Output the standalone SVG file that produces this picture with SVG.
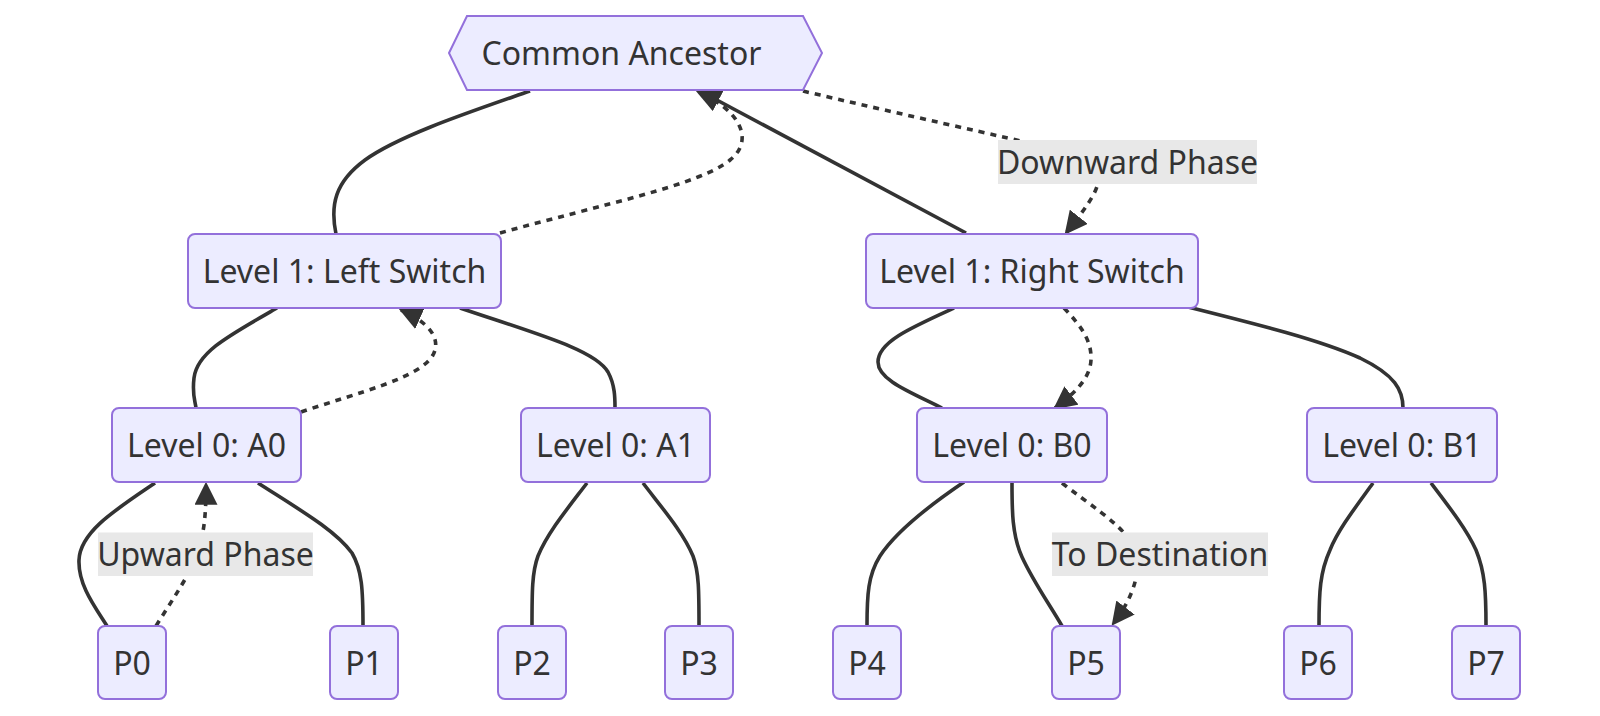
<svg xmlns="http://www.w3.org/2000/svg" width="1600" height="716" viewBox="0 0 1600 716">
<style>
.node rect,.node polygon{fill:#ECECFF;stroke:#9370DB;stroke-width:2}
.node text,.lbl text{font-family:"Noto Sans","Open Sans",sans-serif;font-size:32px;fill:#333333;text-anchor:middle}
.e{fill:none;stroke:#333333;stroke-width:3.6}
.d{stroke-dasharray:6 6}
.lbl rect{fill:#e8e8e8}
</style>
<defs>
<marker id="arr" markerUnits="userSpaceOnUse" viewBox="0 0 10 10" refX="9" refY="5" markerWidth="23" markerHeight="23" orient="auto">
<path d="M0,0 L10,5 L0,10 z" fill="#333333" stroke="none"/>
</marker>
</defs>
<g id="edges">
<path class="e" d="M530,91 C 470,112 400,135 365,160 C 335,182 330,205 336,234"/>
<path class="e d" d="M500,233 C 600,205 700,185 730,160 C 755,140 740,110 698,92" marker-end="url(#arr)"/>
<path class="e" d="M966,233 L700,91" marker-end="url(#arr)"/>
<path class="e d" d="M803,91 C 900,114 1000,136 1060,150 C 1120,165 1100,190 1066,233" marker-end="url(#arr)"/>
<path class="e" d="M277,308 C 230,335 197,352 194,378 C 192,395 195,400 196,408"/>
<path class="e d" d="M301,412 C 360,392 420,378 433,355 C 442,338 428,322 401,310" marker-end="url(#arr)"/>
<path class="e" d="M460,308 C 540,335 595,350 608,372 C 615,385 615,398 615,408"/>
<path class="e" d="M954,308 C 910,328 878,342 878,362 C 878,380 910,392 942,408"/>
<path class="e d" d="M1064,308 C 1080,325 1092,340 1091,360 C 1090,380 1072,395 1055,408" marker-end="url(#arr)"/>
<path class="e" d="M1188,307 C 1260,325 1320,340 1360,358 C 1395,375 1403,390 1403,408"/>
<path class="e" d="M155,483 C 115,510 80,532 79,560 C 78,585 95,607 107,626"/>
<path class="e d" d="M156,626 C 172,600 190,575 198,552 C 205,530 206,510 206,484" marker-end="url(#arr)"/>
<path class="e" d="M258,483 C 300,510 335,530 352,553 C 362,570 363,590 363,626"/>
<path class="e" d="M587,483 C 568,508 548,532 538,556 C 532,572 532,592 532,626"/>
<path class="e" d="M643,483 C 662,508 683,532 693,556 C 699,572 699,592 699,626"/>
<path class="e" d="M964,482 C 930,505 897,530 880,556 C 868,575 867,595 867,626"/>
<path class="e" d="M1012,483 C 1012,510 1012,535 1022,557 C 1034,583 1050,605 1062,626"/>
<path class="e d" d="M1062,483 C 1090,505 1115,520 1130,540 C 1145,565 1135,595 1113,624" marker-end="url(#arr)"/>
<path class="e" d="M1373,483 C 1355,508 1338,530 1330,550 C 1320,572 1319,592 1319,626"/>
<path class="e" d="M1431,483 C 1450,508 1467,530 1476,550 C 1485,572 1486,592 1486,626"/>
</g>
<g id="edge-labels">
<g class="lbl"><rect x="998" y="140" width="259" height="44"/><text x="1127.5" y="173.5">Downward Phase</text></g>
<g class="lbl"><rect x="98" y="532.5" width="215" height="43.5"/><text x="205.5" y="565.7">Upward Phase</text></g>
<g class="lbl"><rect x="1052" y="532.5" width="216" height="43.5"/><text x="1160" y="565.7">To Destination</text></g>
</g>
<g id="CA" class="node"><polygon points="449,53 467,16 803,16 822,53 803,90 467,90"/><text x="621.5" y="64.5">Common Ancestor</text></g>
<g id="L1L" class="node"><rect x="188" y="234" width="313" height="74" rx="7"/><text x="344.5" y="283">Level 1: Left Switch</text></g>
<g id="L1R" class="node"><rect x="866" y="234" width="332" height="74" rx="7"/><text x="1032" y="283">Level 1: Right Switch</text></g>
<g id="A0" class="node"><rect x="112" y="408" width="189" height="74" rx="7"/><text x="206.5" y="457">Level 0: A0</text></g>
<g id="A1" class="node"><rect x="521" y="408" width="189" height="74" rx="7"/><text x="615.5" y="457">Level 0: A1</text></g>
<g id="B0" class="node"><rect x="917" y="408" width="190" height="74" rx="7"/><text x="1012" y="457">Level 0: B0</text></g>
<g id="B1" class="node"><rect x="1307" y="408" width="190" height="74" rx="7"/><text x="1402" y="457">Level 0: B1</text></g>
<g id="P0" class="node"><rect x="98" y="626" width="68" height="73" rx="7"/><text x="132" y="675">P0</text></g>
<g id="P1" class="node"><rect x="330" y="626" width="68" height="73" rx="7"/><text x="364" y="675">P1</text></g>
<g id="P2" class="node"><rect x="498" y="626" width="68" height="73" rx="7"/><text x="532" y="675">P2</text></g>
<g id="P3" class="node"><rect x="665" y="626" width="68" height="73" rx="7"/><text x="699" y="675">P3</text></g>
<g id="P4" class="node"><rect x="833" y="626" width="68" height="73" rx="7"/><text x="867" y="675">P4</text></g>
<g id="P5" class="node"><rect x="1052" y="626" width="68" height="73" rx="7"/><text x="1086" y="675">P5</text></g>
<g id="P6" class="node"><rect x="1284" y="626" width="68" height="73" rx="7"/><text x="1318" y="675">P6</text></g>
<g id="P7" class="node"><rect x="1452" y="626" width="68" height="73" rx="7"/><text x="1486" y="675">P7</text></g>
</svg>
